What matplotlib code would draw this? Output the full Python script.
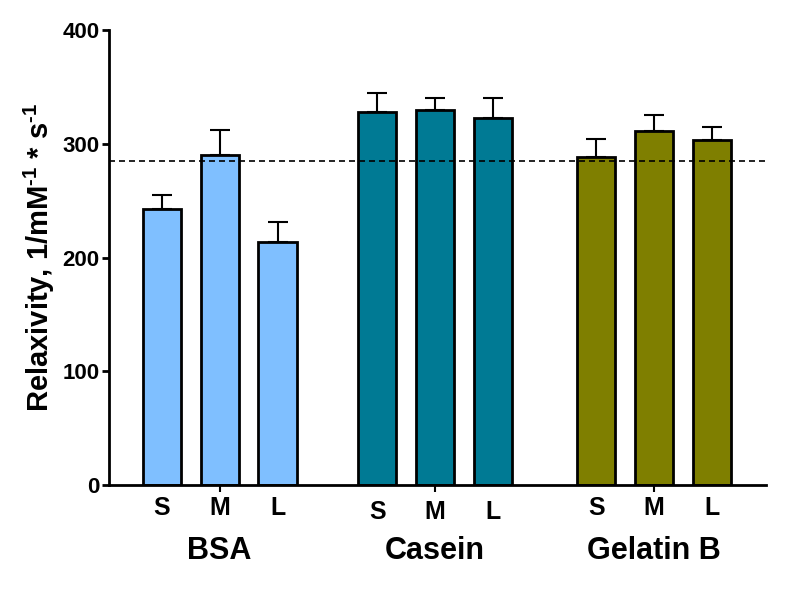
import matplotlib
matplotlib.use("Agg")
import matplotlib.pyplot as plt
from matplotlib.transforms import blended_transform_factory

plt.rcParams['font.family'] = ['Liberation Sans', 'DejaVu Sans']
plt.rcParams['font.weight'] = 'bold'
plt.rcParams['mathtext.fontset'] = 'custom'
plt.rcParams['mathtext.rm'] = 'Liberation Sans:bold'
plt.rcParams['mathtext.bf'] = 'Liberation Sans:bold'
plt.rcParams['mathtext.default'] = 'rm'

groups = ["BSA", "Casein", "Gelatin B"]
sizes = ["S", "M", "L"]
values = [[243, 290, 214], [328, 330, 323], [288, 311, 303]]
errors = [[12, 22, 17], [17, 10, 17], [16, 14, 12]]
colors = ["#7fbfff", "#007a94", "#7f7f00"]
reference = 285
group_offsets = [0.0, 3.72, 7.5]

W, H = 785, 589
fig = plt.figure(figsize=(W / 100, H / 100), dpi=100)
left, right, top, bottom = 109, 766, 30, 485
ax = fig.add_axes([left / W, 1 - bottom / H, (right - left) / W, (bottom - top) / H])

trans = blended_transform_factory(ax.transData, ax.transAxes)
for gi, g in enumerate(groups):
    xs = [group_offsets[gi] + i for i in range(3)]
    ax.bar(xs, values[gi], width=0.66, color=colors[gi], edgecolor='black',
           linewidth=2, zorder=2)
    ax.errorbar(xs, values[gi], yerr=[[0, 0, 0], errors[gi]], fmt='none',
                ecolor='black', elinewidth=1.5, capsize=7, capthick=1.5, zorder=1)
    dy = -0.059 if gi == 1 else -0.050
    for x, s in zip(xs, sizes):
        ax.text(x, dy, s, transform=trans, ha='center', va='center',
                fontsize=18, fontweight='bold')
    ax.text(xs[1], -0.145, g, transform=trans, ha='center', va='center',
            fontsize=22, fontweight='bold')

ax.axhline(reference, color='black', linestyle=(0, (3.6, 2.4)), linewidth=1.2, zorder=3)

ax.set_xlim(-0.91, 10.43)
ax.set_ylim(0, 400)
ax.set_yticks([0, 100, 200, 300, 400])
ax.set_xticks([group_offsets[i] + 1 for i in range(3)])
ax.set_xticklabels([])
ax.tick_params(axis='x', length=5, width=1.5, direction='out')
ax.tick_params(axis='y', length=5, width=2, direction='out', labelsize=16, pad=2)
for lab in ax.get_yticklabels():
    lab.set_fontweight('bold')

for side in ['top', 'right']:
    ax.spines[side].set_visible(False)
for side in ['left', 'bottom']:
    ax.spines[side].set_linewidth(2)

ax.set_ylabel(r"Relaxivity, 1/mM$^{\text{-1}}$ * s$^{\text{-1}}$", fontsize=21,
              fontweight='bold', labelpad=4)

fig.savefig("out.png", dpi=100)
